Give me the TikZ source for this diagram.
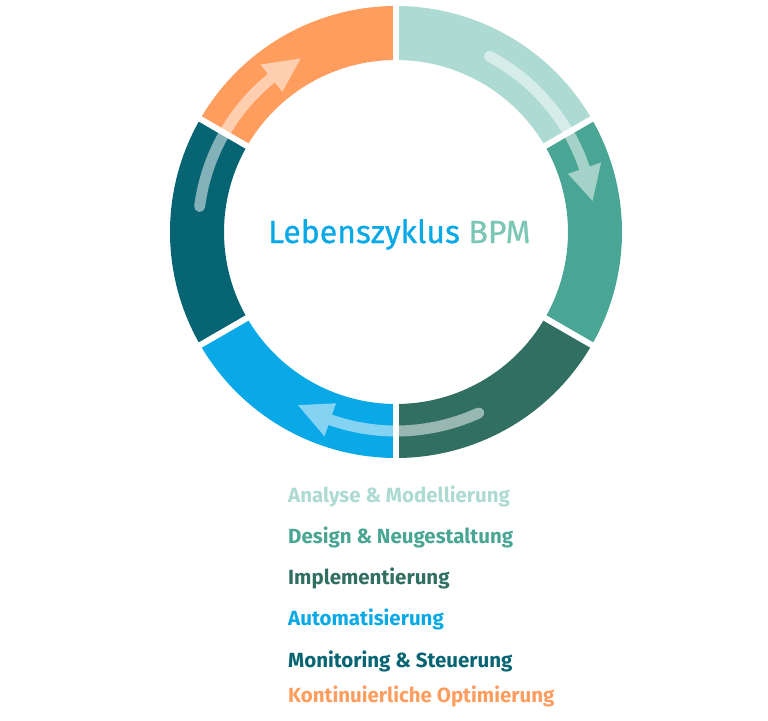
\documentclass[tikz,border=0pt]{standalone}
\usepackage{fontspec}
\setmainfont{Fira Sans}
\newfontfamily\titlefont[FakeBold=0.8]{Fira Sans}
\definecolor{cA}{HTML}{ADDAD2}
\definecolor{cB}{HTML}{49A594}
\definecolor{cC}{HTML}{316F62}
\definecolor{cD}{HTML}{09A8E6}
\definecolor{cE}{HTML}{066473}
\definecolor{cF}{HTML}{FF9D5F}
\definecolor{cBPM}{HTML}{7CC6B7}
\newcommand\cyclearrow[4]{%
  \pgfmathsetmacro\ra{#4+5.5}\pgfmathsetmacro\rb{#4-5.5}%
  \pgfmathsetmacro\rc{#4+17.5}\pgfmathsetmacro\rd{#4-17.5}%
  \pgfmathsetmacro\capang{#1+180}%
  \fill[arrowfill] (#1:\ra pt) arc[start angle=#1, end angle=#2, radius=\ra pt]
    -- (#2:\rc pt) -- (#3:#4pt) -- (#2:\rd pt) -- (#2:\rb pt)
    arc[start angle=#2, end angle=#1, radius=\rb pt]
    arc[start angle=\capang, end angle=#1, radius=5.5pt] -- cycle;}
\tikzset{
  arrowfill/.style={fill=white, fill opacity=0.5},
  gapline/.style={draw=white, line width=6pt},
  legend/.style={anchor=base west, inner sep=0pt, font=\bfseries\fontsize{20.5}{22}\selectfont},
}
\begin{document}
\begin{tikzpicture}[x=1pt,y=1pt]
\useasboundingbox (-396,-488) rectangle (372,232);
% ring segments
\foreach \a/\b/\c in {90/30/cA, 30/-30/cB, -30/-90/cC, -90/-150/cD, 210/150/cE, 150/90/cF}
  \fill[\c] (\a:226pt) arc[start angle=\a, end angle=\b, radius=226pt]
    -- (\b:172pt) arc[start angle=\b, end angle=\a, radius=172pt] -- cycle;
% arrows
\cyclearrow{62}{18.7}{9}{199}
\cyclearrow{-65.4}{-109.3}{-119.5}{199}
\cyclearrow{172.6}{129}{118.8}{198}
% gaps
\foreach \a in {90,30,-30,-90,-150,150}
  \draw[gapline] (\a:168pt) coordinate (g\a i) -- (\a:230pt) coordinate (g\a o);
% title
\node[anchor=base west, inner sep=0pt, font=\titlefont\fontsize{32}{34}\selectfont] (title) at (-128,-11)
  {\textcolor{cD}{Lebenszyklus} \textcolor{cBPM}{BPM}};
% legend
\node[legend, text=cA] (l1) at (-108,-270) {Analyse \& Modellierung};
\node[legend, text=cB] (l2) at (-108,-311) {Design \& Neugestaltung};
\node[legend, text=cC] (l3) at (-108,-352) {Implementierung};
\node[legend, text=cD] (l4) at (-108,-393) {Automatisierung};
\node[legend, text=cE] (l5) at (-108,-435) {Monitoring \& Steuerung};
\node[legend, text=cF] (l6) at (-108,-470) {Kontinuierliche Optimierung};
\end{tikzpicture}
\end{document}
